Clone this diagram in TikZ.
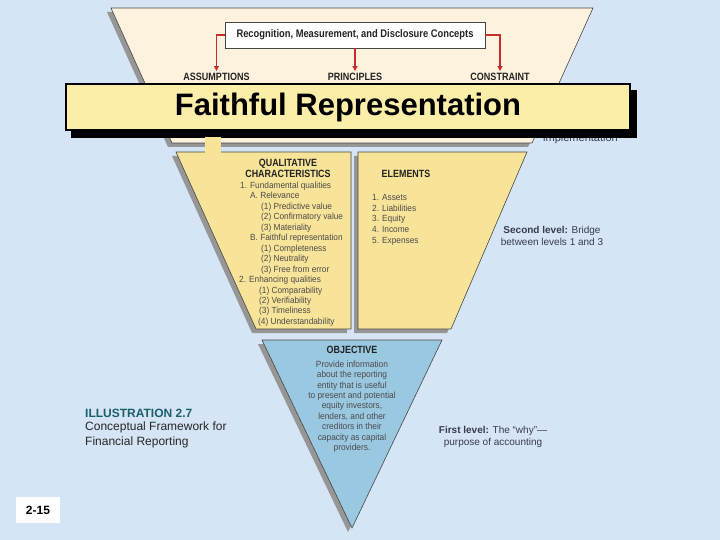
\documentclass[tikz,border=0pt]{standalone}
\usepackage{fontspec}
\setmainfont{Liberation Sans}
\newfontfamily\condfont[FakeStretch=0.85]{Liberation Sans}
\newfontfamily\listfont[FakeStretch=0.93]{Liberation Sans}
\usetikzlibrary{arrows.meta}
\definecolor{bgblue}{RGB}{213,229,245}
\definecolor{cream}{RGB}{253,242,222}
\definecolor{qcyellow}{RGB}{248,228,152}
\definecolor{bannery}{RGB}{250,238,168}
\definecolor{objblue}{RGB}{154,200,225}
\definecolor{shadowgray}{RGB}{150,150,150}
\definecolor{edgegray}{RGB}{70,70,70}
\definecolor{listgray}{RGB}{75,75,75}
\definecolor{headdark}{RGB}{35,35,35}
\definecolor{sidetext}{RGB}{55,60,75}
\definecolor{illteal}{RGB}{25,95,105}
\definecolor{arrowred}{RGB}{200,45,45}
\begin{document}
\begin{tikzpicture}[x=1pt,y=-1pt,
  shapeedge/.style={draw=edgegray,line width=0.6pt},
  shadowfill/.style={fill=shadowgray,shift={(-4,4)}},
  toplabel/.style={font=\condfont\fontsize{10.6}{10.6}\selectfont\bfseries,text=headdark,inner sep=1pt},
  heading/.style={font=\condfont\fontsize{10.5}{10.5}\selectfont\bfseries,text=headdark,inner sep=0pt,align=center},
  listtext/.style={font=\listfont\fontsize{8.9}{10}\selectfont,text=listgray,inner sep=0pt,anchor=base west},
  objtext/.style={font=\listfont\fontsize{9}{10.4}\selectfont,text=listgray,inner sep=0pt,align=center},
  sidelabel/.style={font=\fontsize{10}{12}\selectfont,text=sidetext,inner sep=0pt,align=center},
  redarrow/.style={draw=arrowred,line width=1.1pt,-{Triangle[length=5pt,width=5pt]}}
]
\useasboundingbox (0,0) rectangle (720,540);
\fill[bgblue] (0,0) rectangle (720,540);

% third level (top trapezoid)
\fill[shadowfill] (111,8) -- (593,8) -- (532,143) -- (172,143) -- cycle;
\filldraw[fill=cream,shapeedge] (111,8) -- (593,8) -- (532,143) -- (172,143) -- cycle;

\node[draw=edgegray,line width=0.8pt,fill=white,minimum width=260pt,minimum height=26pt,inner sep=0pt,
  font=\condfont\fontsize{11}{11}\selectfont\bfseries,text=headdark] (rmd) at (355,35)
  {Recognition, Measurement, and Disclosure Concepts};
\node[toplabel] (assum) at (216.5,77) {ASSUMPTIONS};
\node[toplabel] (princ) at (355,77) {PRINCIPLES};
\node[toplabel] (constr) at (500,77) {CONSTRAINT};
\draw[redarrow,shorten >=1pt] (rmd.west) -| (assum.north);
\draw[redarrow,shorten >=1pt] (rmd.south) -- (princ.north);
\draw[redarrow,shorten >=1pt] (rmd.east) -| (constr.north);

\node[font=\fontsize{11}{11}\selectfont,text=sidetext,inner sep=0pt,anchor=base west] (impl) at (543,141.5) {implementation};

% banner
\fill[black] (71,90) rectangle (637,138);
\node[draw=black,line width=1.5pt,fill=bannery,minimum width=564pt,minimum height=46pt,inner sep=0pt,
  font=\fontsize{31}{31}\selectfont\bfseries,text=black] (fr) at (348,107) {Faithful Representation};

% second level
\fill[shadowfill] (176,152) -- (351,152) -- (351,329) -- (256,329) -- cycle;
\filldraw[fill=qcyellow,shapeedge] (176,152) -- (351,152) -- (351,329) -- (256,329) -- cycle;
\fill[shadowfill] (358,152) -- (527,152) -- (451,329) -- (358,329) -- cycle;
\filldraw[fill=qcyellow,shapeedge] (358,152) -- (527,152) -- (451,329) -- (358,329) -- cycle;
\fill[qcyellow] (205,137.3) rectangle (221,153);

% first level
\fill[shadowfill] (262,340) -- (442,340) -- (352,528) -- cycle;
\filldraw[fill=objblue,shapeedge] (262,340) -- (442,340) -- (352,528) -- cycle;

% qualitative characteristics text
\node[heading] (qchead) at (288,168.5) {QUALITATIVE\\CHARACTERISTICS};
\node[listtext] (q1) at (240,188.5) {1. Fundamental qualities};
\node[listtext] (q2) at (250,198.95) {A. Relevance};
\node[listtext] (q3) at (261,209.4) {(1) Predictive value};
\node[listtext] (q4) at (261,219.85) {(2) Confirmatory value};
\node[listtext] (q5) at (261,230.3) {(3) Materiality};
\node[listtext] (q6) at (250,240.75) {B. Faithful representation};
\node[listtext] (q7) at (261,251.2) {(1) Completeness};
\node[listtext] (q8) at (261,261.65) {(2) Neutrality};
\node[listtext] (q9) at (261,272.1) {(3) Free from error};
\node[listtext] (q10) at (239,282.55) {2. Enhancing qualities};
\node[listtext] (q11) at (259,293) {(1) Comparability};
\node[listtext] (q12) at (259,303.45) {(2) Verifiability};
\node[listtext] (q13) at (259,313.9) {(3) Timeliness};
\node[listtext] (q14) at (258,324.35) {(4) Understandability};

% elements text
\node[heading] (elhead) at (406,174) {ELEMENTS};
\node[listtext] (e1) at (372,200.5) {1. Assets};
\node[listtext] (e2) at (372,211.25) {2. Liabilities};
\node[listtext] (e3) at (372,222) {3. Equity};
\node[listtext] (e4) at (372,232.75) {4. Income};
\node[listtext] (e5) at (372,243.5) {5. Expenses};

\node[sidelabel] (second) at (552,235.5) {\textbf{Second level:} Bridge\\between levels 1 and 3};

% objective text
\node[heading] (objhead) at (352,350) {OBJECTIVE};
\node[objtext,anchor=north] (objbody) at (352,360.5) {Provide information\\about the reporting\\entity that is useful\\to present and potential\\equity investors,\\lenders, and other\\creditors in their\\capacity as capital\\providers.};

\node[sidelabel] (first) at (493,436.5) {\textbf{First level:} The ``why''---\\purpose of accounting};

% illustration caption
\node[font=\fontsize{12}{12}\selectfont\bfseries,text=illteal,inner sep=0pt,anchor=base west] (ill) at (85,417.5) {ILLUSTRATION 2.7};
\node[font=\fontsize{12}{14.5}\selectfont,text=black!85,inner sep=0pt,anchor=north west,align=left] (cap) at (85,422) {Conceptual Framework for\\Financial Reporting};

% page number
\node[fill=white,minimum width=44pt,minimum height=26pt,inner sep=0pt,font=\fontsize{12}{12}\selectfont\bfseries] (pg) at (38,510) {2-15};
\end{tikzpicture}
\end{document}
